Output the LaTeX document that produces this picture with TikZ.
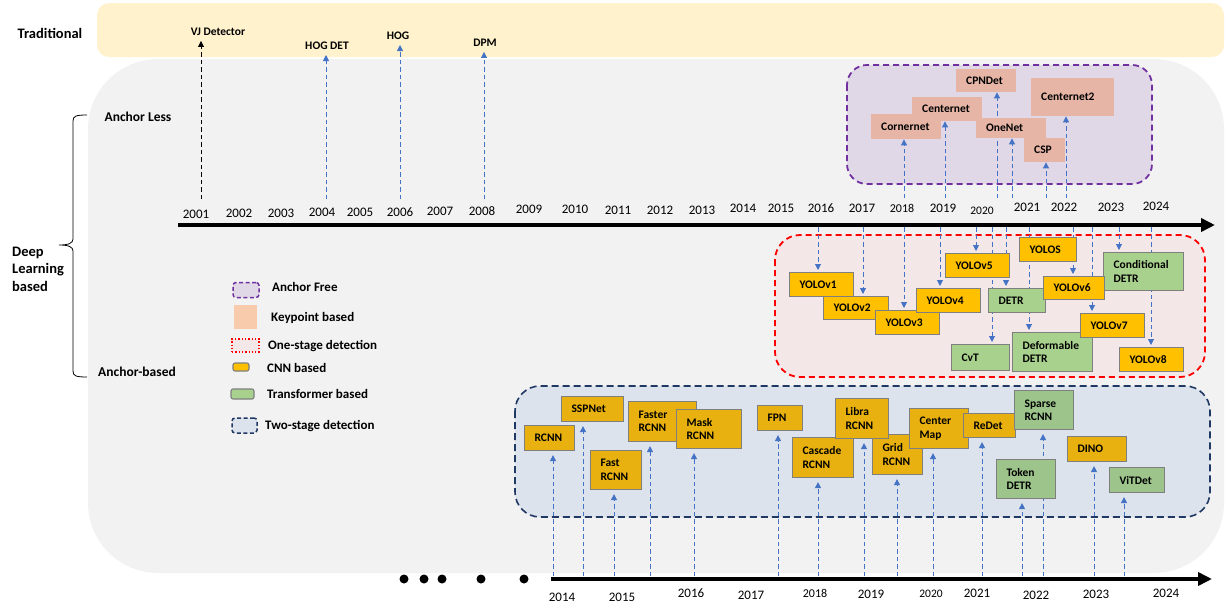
\documentclass[tikz,border=0pt]{standalone}
\usepackage{fontspec}
\setmainfont{Carlito}
\usetikzlibrary{arrows.meta}

% colours
\definecolor{tradband}{HTML}{FFF2CC}
\definecolor{dlgray}{HTML}{F2F2F2}
\definecolor{afpurple}{HTML}{7030A0}
\definecolor{affill}{HTML}{E0D7E7}
\definecolor{kpfill}{HTML}{E6B5A5}
\definecolor{kplegend}{HTML}{F8CBAD}
\definecolor{osred}{HTML}{FF0000}
\definecolor{osfill}{HTML}{F3E7E8}
\definecolor{tsnavy}{HTML}{203864}
\definecolor{tsfill}{HTML}{DDE3EC}
\definecolor{cnnA}{HTML}{FFC000}
\definecolor{cnnB}{HTML}{E8B10F}
\definecolor{trA}{HTML}{A9D18E}
\definecolor{trB}{HTML}{9DC58B}
\definecolor{boxline}{HTML}{7F7F7F}
\definecolor{flowblue}{HTML}{4472C4}

\pgfdeclarelayer{back}
\pgfdeclarelayer{mid}
\pgfsetlayers{back,mid,main}

\tikzset{
	lbl/.style={font=\fontsize{11.5}{13.5}\selectfont\bfseries, inner sep=1pt},
	side/.style={font=\fontsize{13.5}{17}\selectfont\bfseries, inner sep=0pt},
	yearlbl/.style={font=\fontsize{13}{15}\selectfont, inner sep=0pt},
	legtext/.style={font=\fontsize{13}{15}\selectfont\bfseries, anchor=west, inner sep=0pt},
	bx/.style 2 args={lbl, anchor=north west, align=left, inner xsep=10pt, inner ysep=1pt,
		text width=#1-20, minimum height=#2},
	cnnup/.style={fill=cnnA, draw=boxline, line width=1.1pt},
	cnnlow/.style={fill=cnnB, draw=boxline, line width=1.1pt},
	trfup/.style={fill=trA, draw=boxline, line width=1.1pt},
	trflow/.style={fill=trB, draw=boxline, line width=1.1pt},
	kp/.style={fill=kpfill},
	icon/.style={inner sep=0pt},
	flow/.style={flowblue, line width=0.9pt, dash pattern=on 4.5pt off 3pt, -{Triangle[width=6pt,length=6pt]}},
	flowk/.style={flow, black},
	timeline/.style={line width=4pt, -{Triangle[width=13pt,length=14pt]}},
}

\begin{document}
\begin{tikzpicture}[x=1pt, y=-1pt]
	\useasboundingbox (0,0) rectangle (1225,605);

	% regions
	\begin{pgfonlayer}{back}
		\fill[tradband, rounded corners=12pt] (97,3) rectangle (1224,57);
		\fill[dlgray, rounded corners=70pt] (88,59) rectangle (1224,573);
		\draw[afpurple, fill=affill, line width=1.8pt, dash pattern=on 6pt off 4pt, rounded corners=20pt] (847,65) rectangle (1152,184);
		\draw[osred, fill=osfill, line width=1.8pt, dash pattern=on 6pt off 4pt, rounded corners=25pt] (775,235) rectangle (1205,377);
		\draw[tsnavy, fill=tsfill, line width=1.6pt, dash pattern=on 7pt off 4pt, rounded corners=25pt] (515,386) rectangle (1210,517);
	\end{pgfonlayer}

	% side labels
	\node[side, font=\fontsize{14.5}{17}\selectfont\bfseries] (trad) at (50,33) {Traditional};
	\node[side] (anless) at (138,117) {Anchor Less};
	\node[side] (anbased) at (137,372) {Anchor-based};
	\node[side, font=\fontsize{14.5}{17.5}\selectfont\bfseries, anchor=west, align=left] (deep) at (12,269) {Deep\\Learning\\based};
	\coordinate (bt) at (87,115);
	\coordinate (bb) at (87,377);
	\draw[line width=0.8pt] (bt) .. controls (76,115) and (73,116) .. (73,121) -- (73,239)
		.. controls (73,243) and (69,245) .. (59,245) .. controls (69,245) and (73,247) .. (73,251)
		-- (73,371) .. controls (73,376) and (76,377) .. (bb);

	% traditional
	\node[lbl] (vj) at (218,32) {VJ Detector};
	\node[lbl] (hogdet) at (327,46) {HOG DET};
	\node[lbl] (hog) at (398,36) {HOG};
	\node[lbl] (dpm) at (485,43) {DPM};

	% anchor free / keypoint
	\node[kp, bx={60}{23}] (cpndet) at (956,69) {CPNDet};
	\node[kp, bx={83}{38}] (cnet2) at (1031,78) {Centernet2};
	\node[kp, bx={70}{24}] (cnet) at (912,97) {Centernet};
	\node[kp, bx={70}{25}] (corner) at (871,114) {Cornernet};
	\node[kp, bx={70}{20}] (onenet) at (976,118) {OneNet};
	\node[kp, bx={41}{24}] (csp) at (1024,138) {CSP};

	% one-stage
	\node[cnnup, bx={64}{24}] (yolo1) at (789,272) {YOLOv1};
	\node[cnnup, bx={65}{23}] (yolo2) at (823,296) {YOLOv2};
	\node[cnnup, bx={64}{24}] (yolo3) at (875,310) {YOLOv3};
	\node[cnnup, bx={64}{24}] (yolo4) at (916,288) {YOLOv4};
	\node[cnnup, bx={64}{24}] (yolo5) at (945,253) {YOLOv5};
	\node[trfup, bx={57}{24}] (detr) at (988,288) {DETR};
	\node[trfup, bx={58}{26}] (cvt) at (951,344) {CvT};
	\node[cnnup, bx={57}{24}] (yolos) at (1019,237) {YOLOS};
	\node[trfup, bx={80}{39}] (defdetr) at (1012,332) {Deformable\\DETR};
	\node[trfup, bx={80}{38}] (conddetr) at (1103,252) {Conditional\\DETR};
	\node[cnnup, bx={61}{23}] (yolo6) at (1043,276) {YOLOv6};
	\node[cnnup, bx={64}{24}] (yolo7) at (1080,313) {YOLOv7};
	\node[cnnup, bx={64}{24}] (yolo8) at (1119,347) {YOLOv8};

	% two-stage
	\node[cnnlow, bx={50}{25}] (rcnn) at (524,425) {RCNN};
	\node[cnnlow, bx={62}{25}] (sppnet) at (561,396) {SSPNet};
	\node[cnnlow, bx={51}{39}] (fast) at (590,450) {Fast\\RCNN};
	\node[cnnlow, bx={68}{40}] (faster) at (628,401) {Faster\\RCNN};
	\node[cnnlow, bx={65}{39}] (mask) at (676,409) {Mask\\RCNN};
	\node[cnnlow, bx={45}{25}] (fpn) at (757,405) {FPN};
	\node[cnnlow, bx={61}{40}] (cascade) at (792,437) {Cascade\\RCNN};
	\node[cnnlow, bx={50}{40}] (grid) at (872,434) {Grid\\RCNN};
	\node[cnnlow, bx={53}{40}] (libra) at (835,398) {Libra\\RCNN};
	\node[cnnlow, bx={59}{40}] (centermap) at (909,408) {Center\\Map};
	\node[cnnlow, bx={52}{24}] (redet) at (963,413) {ReDet};
	\node[trflow, bx={59}{39}] (sparse) at (1014,390) {Sparse\\RCNN};
	\node[trflow, bx={59}{39}] (token) at (996,459) {Token\\DETR};
	\node[cnnlow, bx={59}{25}] (dino) at (1067,436) {DINO};
	\node[trflow, bx={55}{25}] (vitdet) at (1109,467) {ViTDet};

	% legend
	\node[icon, draw=afpurple, fill=affill, line width=1.5pt, dash pattern=on 4pt off 2.5pt, rounded corners=3pt, minimum width=26pt, minimum height=15pt] (lgaf) at (246,290) {};
	\node[legtext] (lgaftx) at (272,287) {Anchor Free};
	\node[icon, fill=kplegend, minimum width=23pt, minimum height=24pt] (lgkp) at (245,317) {};
	\node[legtext] (lgkptx) at (271,318) {Keypoint based};
	\node[icon, draw=osred, fill=osfill, line width=1.3pt, dotted, minimum width=27pt, minimum height=13pt] (lgos) at (245.5,345.5) {};
	\node[legtext] (lgostx) at (268,346) {One-stage detection};
	\node[icon, cnnup, rounded corners=2pt, minimum width=16pt, minimum height=8pt] (lgcnn) at (241,367) {};
	\node[legtext] (lgcnntx) at (267,368) {CNN based};
	\node[icon, trfup, rounded corners=2pt, minimum width=23pt, minimum height=10pt] (lgtrf) at (242.5,394) {};
	\node[legtext] (lgtrftx) at (267,394) {Transformer based};
	\node[icon, draw=tsnavy, fill=tsfill, line width=1.5pt, dash pattern=on 4pt off 2.5pt, rounded corners=3pt, minimum width=25pt, minimum height=15pt] (lgts) at (244.5,425.5) {};
	\node[legtext] (lgtstx) at (265,426) {Two-stage detection};

	% timelines
	\coordinate (tla) at (178,225);
	\coordinate (tlb) at (1215,225);
	\draw[timeline] (tla) -- (tlb);
	\coordinate (tlc) at (551,579);
	\coordinate (tld) at (1212,579);
	\draw[timeline] (tlc) -- (tld);
	\foreach \xx [count=\i] in {404,424,442,481,524}
		\node[circle, fill=black, inner sep=0pt, minimum size=9pt] (dot\i) at (\xx,579) {};

	\foreach \yr/\xx/\yy in {2001/196/214, 2002/239/213, 2003/281/213, 2004/322/212, 2005/360/212, 2006/400/212, 2007/440/211, 2008/482/211, 2009/529/209, 2010/575/209, 2011/618/210, 2012/660/210, 2013/702/210, 2014/743/208, 2015/781/208, 2016/821/208, 2017/862/208, 2019/943/208, 2021/1027/207, 2022/1064/207, 2023/1111/207, 2024/1156/206}
		\node[yearlbl] (top\yr) at (\xx,\yy) {\yr};
	\node[yearlbl, font=\fontsize{12}{14}\selectfont] (top2018) at (902,208) {2018};
	\node[yearlbl, font=\fontsize{11.5}{14}\selectfont] (top2020) at (982,211) {2020};

	\foreach \yr/\xx/\yy in {2014/562/597, 2015/622/597, 2016/691/593, 2017/751/595, 2019/871/594, 2021/977/593, 2022/1036/595, 2023/1096/594, 2024/1166/593}
		\node[yearlbl] (low\yr) at (\xx,\yy) {\yr};
	\node[yearlbl, font=\fontsize{12}{14}\selectfont] (low2018) at (815,593) {2018};
	\node[yearlbl, font=\fontsize{11.5}{14}\selectfont] (low2020) at (931,594) {2020};

	% connectors
	\begin{pgfonlayer}{mid}
		\coordinate (tvj) at (201,199);
		\draw[flowk, shorten >=4pt] (tvj) -- (tvj |- vj.south);
		\foreach \xx/\tg in {326/hogdet, 400/hog, 484/dpm}
		{
			\coordinate (t\tg) at (\xx,199);
			\draw[flow, shorten >=4pt] (t\tg) -- (t\tg |- \tg.south);
		}
		\foreach \xx/\tg in {904/corner, 945/cnet, 997/cpndet, 1012/onenet, 1046/csp, 1066/cnet2}
		{
			\coordinate (u\tg) at (\xx,198);
			\draw[flow] (u\tg) -- (u\tg |- \tg.south);
		}
		\foreach \xx/\tg in {818/yolo1, 863/yolo2, 904/yolo3, 940/yolo4, 976/yolo5, 992/cvt, 1006/detr, 1029/defdetr, 1073/yolo6, 1092/yolo7, 1119/conddetr, 1151/yolo8}
		{
			\coordinate (s\tg) at (\xx,227);
			\draw[flow, shorten >=2pt] (s\tg) -- (s\tg |- \tg.north);
		}
		\foreach \xx/\tg in {553/rcnn, 583/sppnet, 614/fast, 650/faster, 694/mask, 778/fpn, 818/cascade, 864/libra, 897/grid, 933/centermap, 982/redet, 1022/token, 1043/sparse, 1094/dino, 1124/vitdet}
		{
			\coordinate (b\tg) at (\xx,576);
			\draw[flow, shorten >=4pt] (b\tg) -- (b\tg |- \tg.south);
		}
	\end{pgfonlayer}
\end{tikzpicture}
\end{document}
